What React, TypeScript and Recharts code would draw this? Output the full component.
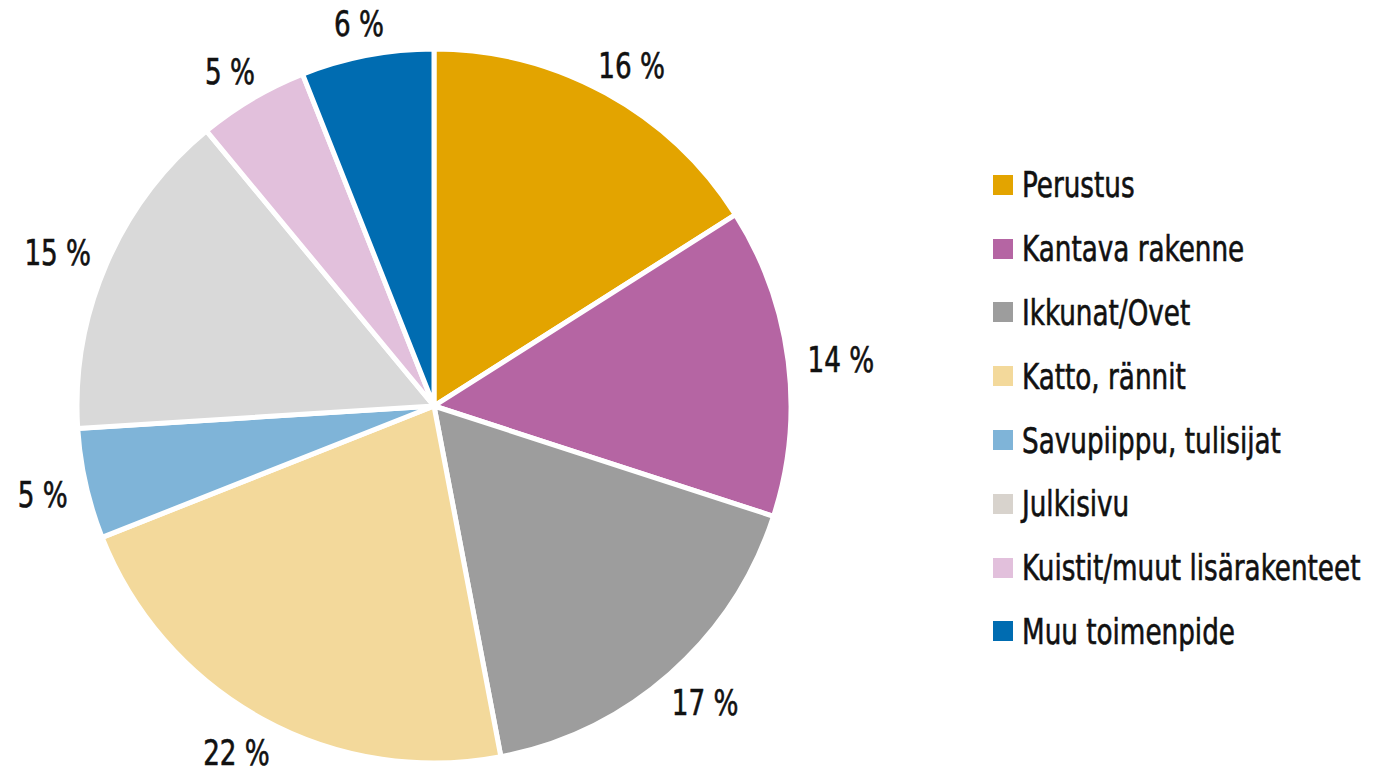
import { PieChart, Pie, Cell } from 'recharts';

const CATEGORIES = [
  'Perustus',
  'Kantava rakenne',
  'Ikkunat/Ovet',
  'Katto, rännit',
  'Savupiippu, tulisijat',
  'Julkisivu',
  'Kuistit/muut lisärakenteet',
  'Muu toimenpide',
];

const SHARES = [16, 14, 17, 22, 5, 15, 5, 6];

const COLORS = [
  '#E3A400',
  '#B565A3',
  '#9D9D9D',
  '#F3D99B',
  '#7FB4D8',
  '#D9D9D9',
  '#E2C0DC',
  '#006CB1',
];

const LEGEND_COLORS = [
  '#E3A400',
  '#B565A3',
  '#9D9D9D',
  '#F3D99B',
  '#7FB4D8',
  '#D8D3CD',
  '#E2C0DC',
  '#006CB1',
];

const FONT = '"DejaVu Sans Condensed", "DejaVu Sans", sans-serif';
const SQUEEZE = 0.81;

const data = CATEGORIES.map((name, i) => ({ name, value: SHARES[i] }));

const RAD = Math.PI / 180;

// outside-end label, pushed out by half its own box so it clears the rim
function renderLabel(props: any) {
  const { cx, cy, midAngle, outerRadius, value } = props;
  const text = `${value} %`;
  const w = String(value).length > 1 ? 66 : 48;
  const h = 30;
  const cos = Math.cos(-midAngle * RAD);
  const sin = Math.sin(-midAngle * RAD);
  const r = outerRadius + 20;
  const x = cx + r * cos + (w / 2) * cos;
  const y = cy + r * sin + (h / 2) * sin + 3;
  return (
    <text
      transform={`translate(${x},${y}) scale(${SQUEEZE},1)`}
      x={0}
      y={0}
      textAnchor="middle"
      dominantBaseline="central"
      fill="#111"
      fontSize={36}
      stroke="#111"
      strokeWidth={0.6}
      fontFamily={FONT}
    >
      {text}
    </text>
  );
}

export default function App() {
  return (
    <div style={{ position: 'absolute', left: 0, top: 0, width: 1375, height: 767, background: '#fff' }}>
      <PieChart width={1375} height={767} margin={{ top: 0, right: 0, bottom: 0, left: 0 }}>
        <Pie
          data={data}
          dataKey="value"
          nameKey="name"
          cx={434}
          cy={406}
          outerRadius={357}
          startAngle={90}
          endAngle={-270}
          stroke="#fff"
          strokeWidth={5}
          label={renderLabel}
          labelLine={false}
          isAnimationActive={false}
        >
          {data.map((_, i) => (
            <Cell key={`c-${i}`} fill={COLORS[i]} />
          ))}
        </Pie>
      </PieChart>
      <div style={{ position: 'absolute', left: 993, top: 153, fontFamily: FONT }}>
        {CATEGORIES.map((name, i) => (
          <div key={name} style={{ display: 'flex', alignItems: 'center', height: 63.8 }}>
            <div
              style={{
                width: 20,
                height: 20,
                background: LEGEND_COLORS[i],
                marginRight: 9,
                flexShrink: 0,
              }}
            />
            <div
              style={{
                fontSize: 36,
                color: '#111',
                whiteSpace: 'nowrap',
                WebkitTextStroke: '0.6px #111',
                transform: `scaleX(${SQUEEZE})`,
                transformOrigin: 'left center',
              }}
            >
              {name}
            </div>
          </div>
        ))}
      </div>
    </div>
  );
}
